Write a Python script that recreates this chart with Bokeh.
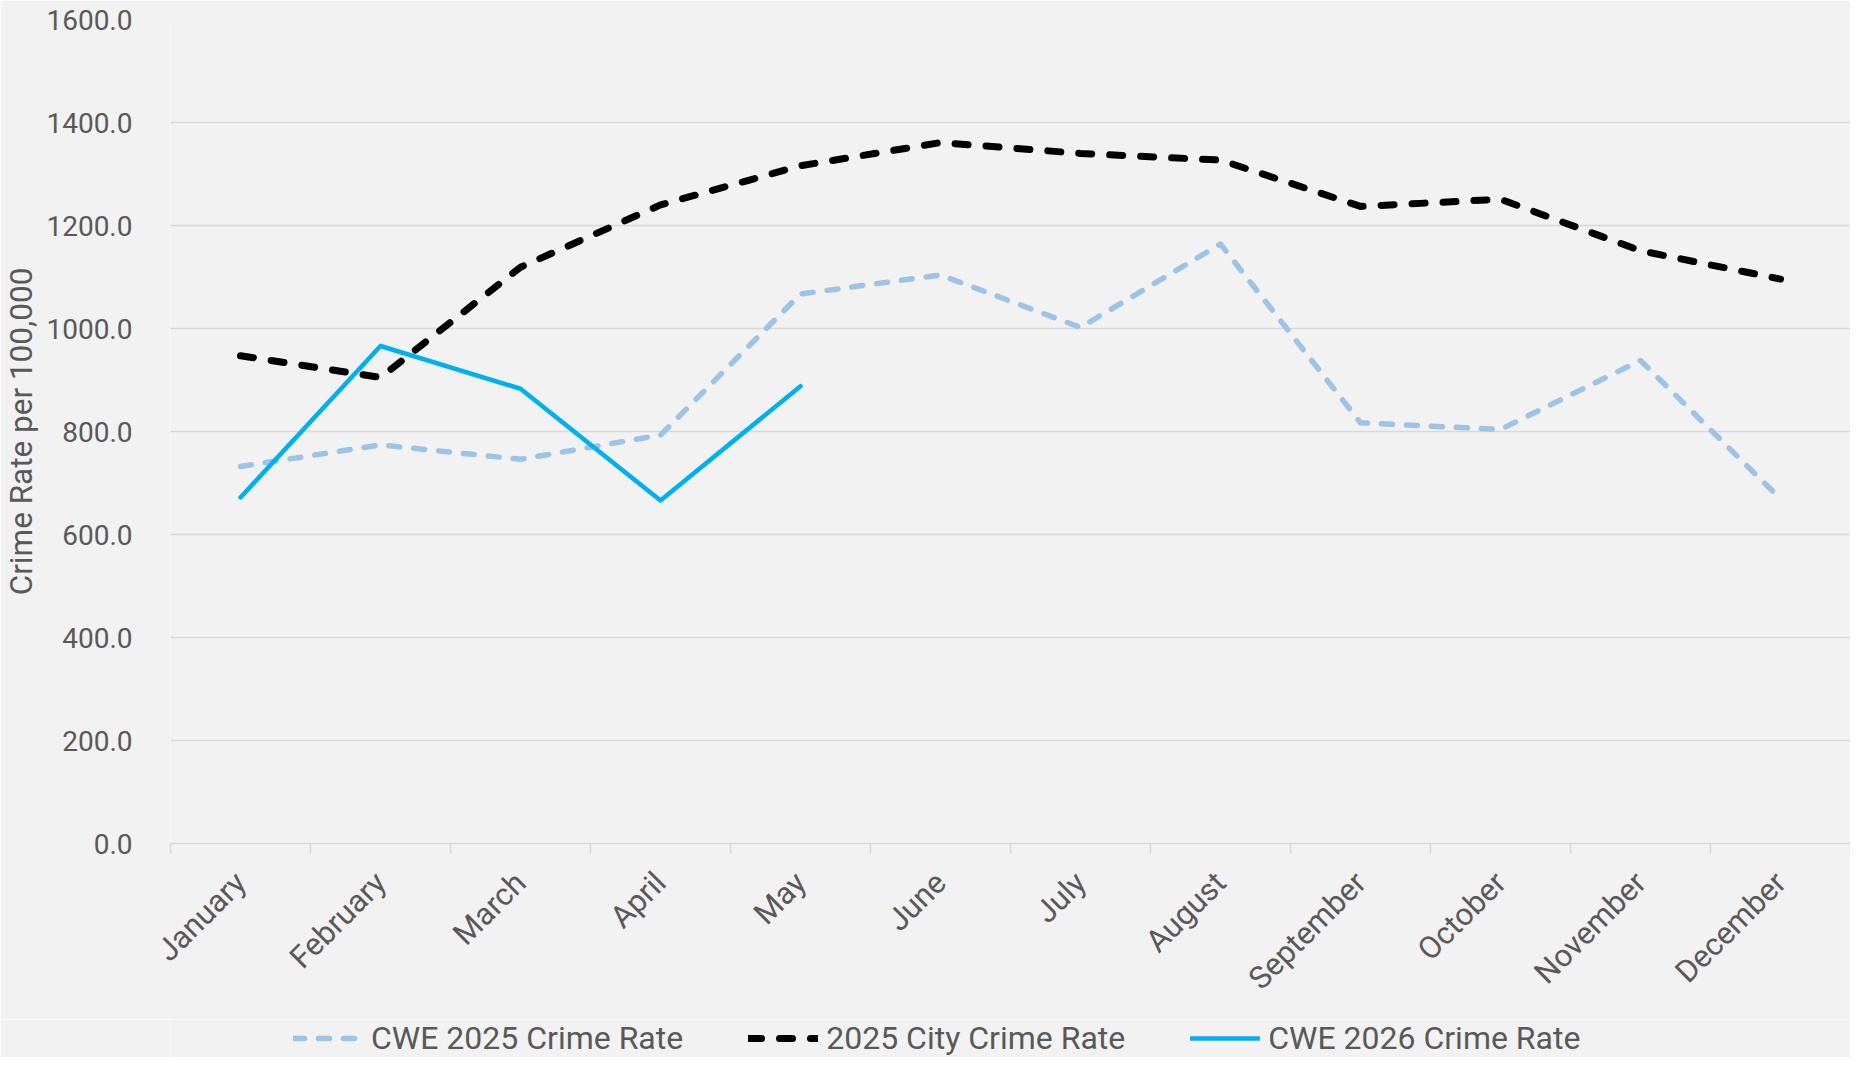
from math import pi
from bokeh.plotting import figure
from bokeh.layouts import column
from bokeh.models import (Range1d, FixedTicker, NumeralTickFormatter, Legend, LegendItem)
from bokeh.embed import file_html
from bokeh.resources import INLINE

months = ["January", "February", "March", "April", "May", "June", "July",
          "August", "September", "October", "November", "December"]
cwe_2025 = [732, 774, 746, 793, 1067, 1104, 1002, 1164, 817, 804, 938, 669]
city_2025 = [947, 905, 1119, 1240, 1316, 1361, 1340, 1327, 1237, 1251, 1151, 1096]
cwe_2026 = [672, 966, 883, 666, 888]
y_ticks = [0, 200, 400, 600, 800, 1000, 1200, 1400, 1600]
series_names = ["CWE 2025 Crime Rate", "2025 City Crime Rate", "CWE 2026 Crime Rate"]

FONT = "Roboto"
TXT = "#595959"
GRID = "#D9D9D9"
BG = "#F2F2F2"
STYLES = [dict(line_color="#9DC3E6", line_width=5.5, line_dash="11 14"),
          dict(line_color="#000000", line_width=7, line_dash="13 18"),
          dict(line_color="#00B0F0", line_width=4.5, line_dash="solid")]

xpos = [i + 0.5 for i in range(len(months))]
series = [cwe_2025, city_2025, cwe_2026]

MAIN_H = 1019
p = figure(width=1850, height=MAIN_H, output_backend="svg", toolbar_location=None,
           x_range=Range1d(0, len(months)), y_range=Range1d(0, 1600),
           min_border_left=162, min_border_right=0, min_border_top=19,
           min_border_bottom=176)
p.background_fill_color = BG
p.border_fill_color = BG
p.outline_line_color = None

for vals, st in zip(series, STYLES):
    p.line(xpos[:len(vals)], vals, line_cap="round", line_join="round", **st)

# y axis
p.yaxis.ticker = FixedTicker(ticks=y_ticks)
p.yaxis.formatter = NumeralTickFormatter(format="0.0")
p.yaxis.axis_line_color = None
p.yaxis.major_tick_line_color = None
p.yaxis.minor_tick_line_color = None
p.yaxis.major_label_standoff = 32
p.yaxis.major_label_text_font = FONT
p.yaxis.major_label_text_font_size = "28px"
p.yaxis.major_label_text_color = TXT
p.yaxis.axis_label = "Crime Rate per 100,000"
p.yaxis.axis_label_text_font = FONT
p.yaxis.axis_label_text_font_size = "31.5px"
p.yaxis.axis_label_text_font_style = "normal"
p.yaxis.axis_label_text_color = TXT
p.yaxis.axis_label_standoff = 3

# x axis: labels at month centres, tick marks at month boundaries
p.xaxis.ticker = FixedTicker(ticks=xpos, minor_ticks=list(range(len(months) + 1)))
p.xaxis.major_label_overrides = {x: m for x, m in zip(xpos, months)}
p.xaxis.major_label_orientation = pi / 4
p.xaxis.major_tick_line_color = None
p.xaxis.major_tick_out = 0
p.xaxis.minor_tick_line_color = GRID
p.xaxis.minor_tick_line_width = 1.5
p.xaxis.minor_tick_out = 10
p.xaxis.minor_tick_in = 0
p.xaxis.axis_line_color = GRID
p.xaxis.axis_line_width = 1.5
p.xaxis.major_label_standoff = 24
p.xaxis.major_label_text_font = FONT
p.xaxis.major_label_text_font_size = "31px"
p.xaxis.major_label_text_color = TXT

p.xgrid.grid_line_color = None
p.ygrid.grid_line_color = GRID
p.ygrid.grid_line_width = 1.5

# legend strip below the chart (its series lines fall outside its 0..1 range)
lg = figure(width=1850, height=1057 - MAIN_H, output_backend="svg", toolbar_location=None,
            x_range=p.x_range, y_range=Range1d(0, 1),
            x_axis_location=None, y_axis_location=None,
            min_border=0, min_border_left=162)
lg.background_fill_color = BG
lg.border_fill_color = BG
lg.outline_line_color = None
lg.grid.visible = False
items = []
for name, vals, st in zip(series_names, series, STYLES):
    r = lg.line(xpos[:len(vals)], vals, line_cap="round", **st)
    items.append(LegendItem(label=name, renderers=[r]))
legend = Legend(items=items, orientation="horizontal", location=(123, 0),
                glyph_width=70, label_standoff=8, spacing=65, padding=0, margin=0,
                background_fill_alpha=0, border_line_alpha=0,
                label_text_font=FONT, label_text_font_size="32px", label_text_color=TXT)
lg.add_layout(legend, "center")

layout = column(p, lg, spacing=0)
open("out.html", "w").write(file_html(layout, INLINE))
